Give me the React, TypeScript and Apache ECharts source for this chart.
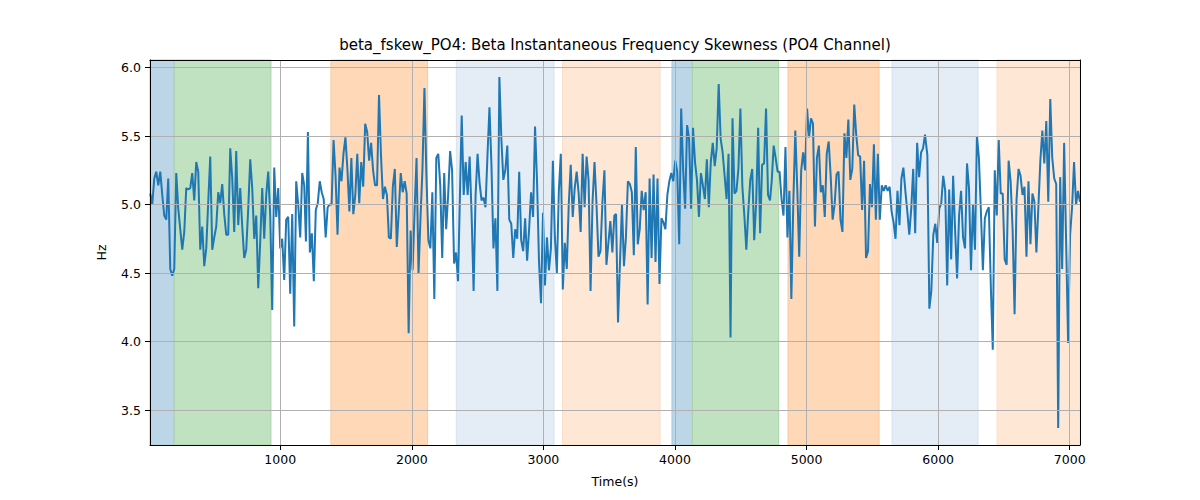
import * as echarts from "echarts";
import { useEffect, useRef } from "react";

// Reading of the trace, split in stretches so each stretch keeps its own time span.
const seg1Span = [12, 1182];
const seg1Vals = [5.08, 5.0, 5.19, 5.24, 5.14, 5.24, 5.07, 4.92, 4.89, 5.19, 4.53, 4.48, 4.53, 5.23, 4.97, 4.82, 4.67, 4.8, 5.12, 5.11, 5.12, 5.23, 5.03, 5.31, 5.24, 4.67, 4.84, 4.55, 4.68, 5.02, 5.35, 4.67, 4.76, 4.84, 5.09, 5.01, 5.15, 4.93, 4.78, 4.78, 5.41, 5.19, 4.8, 5.39, 4.85, 5.12, 4.84, 4.61, 4.67, 4.97, 5.33, 5.12, 4.75, 4.92, 4.39, 4.73, 5.12, 4.75, 5.07, 5.24, 4.92, 4.23, 5.27, 4.91, 5.12, 4.68, 4.75, 4.45, 4.89, 4.91, 4.35, 4.93, 4.11, 5.17, 5.0, 4.76, 5.23, 5.14];

const seg2Span = [1195, 2351];
const seg2Vals = [4.73, 5.53, 4.65, 4.79, 4.44, 4.96, 5.01, 5.17, 5.09, 5.04, 4.76, 4.98, 5.0, 5.0, 5.47, 5.21, 4.78, 5.27, 5.17, 5.37, 5.49, 5.26, 4.95, 5.34, 4.93, 5.07, 5.37, 5.01, 5.31, 5.13, 5.59, 5.53, 5.32, 5.45, 5.25, 5.14, 5.14, 5.8, 5.36, 5.04, 5.13, 5.07, 4.76, 4.75, 5.13, 5.26, 4.69, 4.95, 5.23, 5.09, 5.17, 5.08, 4.06, 4.81, 4.52, 4.95, 5.34, 4.5, 4.9, 5.26, 5.85, 5.21, 4.74, 4.68, 5.09, 4.31, 5.34, 5.37, 5.14, 4.61, 5.23, 4.82, 5.07, 5.39, 5.25, 4.57, 4.65, 4.44];

const seg3Span = [2379, 3539];
const seg3Vals = [5.65, 5.07, 5.31, 5.07, 5.35, 4.92, 4.37, 5.07, 5.37, 5.16, 5.03, 5.05, 4.98, 5.36, 5.71, 5.29, 4.68, 4.9, 4.37, 5.93, 5.48, 5.18, 5.25, 5.43, 4.89, 4.86, 4.61, 4.82, 4.75, 5.24, 4.74, 4.66, 4.9, 4.59, 4.82, 5.09, 4.91, 5.57, 5.17, 4.58, 4.28, 4.94, 4.41, 4.76, 4.52, 4.68, 5.32, 4.76, 4.5, 5.1, 5.37, 4.38, 4.72, 4.53, 5.0, 5.29, 4.91, 5.12, 5.24, 5.08, 4.8, 5.37, 4.98, 5.35, 5.18, 4.37, 5.02, 5.31, 5.0, 4.62, 4.66, 5.02, 5.25, 4.56, 4.72, 4.88, 4.65, 4.92];

const seg4Span = [3552, 4722];
const seg4Vals = [4.93, 4.14, 4.58, 5.0, 4.55, 4.76, 5.17, 5.15, 5.09, 4.63, 5.42, 4.71, 4.82, 5.1, 4.96, 5.09, 4.27, 5.19, 4.61, 5.22, 4.58, 5.19, 4.42, 4.9, 4.87, 4.82, 5.07, 5.17, 5.23, 5.17, 5.32, 5.24, 4.71, 5.7, 5.25, 4.97, 5.58, 5.48, 4.97, 5.56, 5.31, 5.18, 4.91, 5.23, 5.14, 5.04, 5.33, 4.98, 5.31, 5.45, 5.28, 5.41, 5.88, 5.48, 5.38, 5.21, 5.04, 5.37, 4.03, 5.63, 5.08, 5.1, 5.26, 5.7, 5.13, 4.92, 4.67, 4.95, 5.18, 5.26, 4.74, 5.02, 5.56, 4.79, 5.29, 5.3, 5.7, 5.07, 5.03];

const seg5Span = [4735, 5900];
const seg5Vals = [5.17, 5.43, 5.34, 5.24, 5.24, 5.04, 4.92, 5.42, 4.76, 5.1, 4.31, 5.02, 5.54, 5.12, 4.62, 5.25, 5.38, 5.25, 5.7, 5.49, 5.63, 5.59, 4.84, 5.34, 5.43, 5.09, 5.14, 4.91, 5.37, 5.46, 5.21, 4.89, 5.0, 5.22, 5.24, 4.89, 4.8, 5.52, 5.34, 5.62, 5.18, 5.26, 5.73, 5.51, 5.36, 5.35, 4.96, 5.32, 4.61, 4.66, 5.15, 4.98, 5.44, 4.89, 5.37, 4.89, 5.14, 5.1, 5.14, 5.1, 5.13, 4.95, 4.87, 4.75, 5.1, 4.85, 5.19, 5.27, 5.1, 4.95, 4.78, 4.97, 5.26, 4.79, 5.45, 5.2, 5.38, 5.41, 5.51];

const seg6Span = [5918, 7078];
const seg6Vals = [5.36, 4.24, 4.37, 4.78, 4.86, 4.72, 4.97, 5.01, 5.21, 5.1, 4.41, 5.11, 4.6, 5.21, 4.81, 4.46, 4.92, 5.1, 4.76, 4.68, 5.3, 5.12, 4.52, 5.0, 4.67, 5.5, 5.34, 4.95, 4.52, 4.9, 4.95, 4.98, 4.41, 3.94, 5.25, 4.92, 5.47, 5.08, 5.08, 4.6, 4.56, 5.32, 5.17, 4.82, 4.2, 5.04, 5.26, 5.21, 5.07, 5.13, 4.62, 5.17, 4.71, 5.08, 5.02, 4.65, 4.98, 5.32, 5.54, 5.3, 5.61, 5.02, 5.77, 5.34, 5.19, 5.15, 3.37, 5.2, 4.53, 5.45, 4.73, 3.99, 4.78, 4.98, 5.31, 5.0, 5.1, 5.02];

// Shaded periods: [from, to, fill]
const bandFrom = [10, 194, 1385, 2338, 3146, 3977, 4132, 4859, 5650, 6448];
const bandTo = [194, 929, 2120, 3080, 3886, 4132, 4788, 5551, 6303, 7078];
const bandFill = ["#bcd6e8", "#c1e2c1", "#ffd8b7", "#e4ecf6", "#fee8d5", "#bcd6e8", "#c1e2c1", "#ffd8b7", "#e4ecf6", "#fee8d5"];
const bandEdge = ["#a9c9e0", "#a6d4a6", "#fcc89c", "#d6e2f0", "#fbdcc3", "#a9c9e0", "#a6d4a6", "#fcc89c", "#d6e2f0", "#fbdcc3"];

const xTicks = [1000, 2000, 3000, 4000, 5000, 6000, 7000];
const yTicks = [3.5, 4.0, 4.5, 5.0, 5.5, 6.0];

const X_MIN = 10;
const X_MAX = 7078;
const Y_MIN = 3.245;
const Y_MAX = 6.055;

const FONT = "DejaVu Sans";

function stretch(span: number[], vals: number[]) {
  const step = (span[1] - span[0]) / (vals.length - 1);
  return vals.map((v, i) => [span[0] + i * step, v]);
}

export default function App() {
  const box = useRef<HTMLDivElement>(null);

  useEffect(() => {
    if (!box.current) return;
    const c = echarts.init(box.current, undefined, { renderer: "svg" });

    const points = [
      ...stretch(seg1Span, seg1Vals),
      ...stretch(seg2Span, seg2Vals),
      ...stretch(seg3Span, seg3Vals),
      ...stretch(seg4Span, seg4Vals),
      ...stretch(seg5Span, seg5Vals),
      ...stretch(seg6Span, seg6Vals),
    ];

    const grid = { color: "#b0b0b0", width: 1, type: "solid" as const };
    const frame = { show: true, onZero: false, lineStyle: { color: "#000", width: 1 } };
    const text = { fontFamily: FONT, fontSize: 12.5, color: "#000" };

    c.setOption({
      animation: false,
      backgroundColor: "#ffffff",
      textStyle: { fontFamily: FONT },
      title: {
        text: "beta_fskew_PO4: Beta Instantaneous Frequency Skewness (PO4 Channel)",
        left: 615,
        top: 37,
        padding: 0,
        textAlign: "center",
        textStyle: { fontFamily: FONT, fontSize: 15, fontWeight: "normal", color: "#000" },
      },
      grid: { left: 150, right: 120, top: 60, bottom: 55 },
      xAxis: [
        {
          type: "value",
          min: X_MIN,
          max: X_MAX,
          z: 10,
          name: "Time(s)",
          nameLocation: "middle",
          nameGap: 30,
          nameTextStyle: text,
          axisLine: frame,
          axisTick: { show: true, length: 5, customValues: xTicks, lineStyle: { color: "#000" } },
          axisLabel: { ...text, customValues: xTicks, margin: 8, formatter: (v: number) => String(v) },
          splitLine: { show: false },
        },
        {
          type: "value",
          position: "top",
          min: X_MIN,
          max: X_MAX,
          z: 10,
          axisLine: frame,
          axisTick: { show: false },
          axisLabel: { show: false },
          splitLine: { show: false },
        },
      ],
      yAxis: [
        {
          type: "value",
          min: Y_MIN,
          max: Y_MAX,
          z: 10,
          name: "Hz",
          nameLocation: "middle",
          nameGap: 42,
          nameRotate: 90,
          nameTextStyle: text,
          axisLine: frame,
          axisTick: { show: true, length: 5, customValues: yTicks, lineStyle: { color: "#000" } },
          axisLabel: { ...text, customValues: yTicks, margin: 9, formatter: (v: number) => v.toFixed(1) },
          splitLine: { show: false },
        },
        {
          type: "value",
          position: "right",
          min: Y_MIN,
          max: Y_MAX,
          z: 10,
          axisLine: frame,
          axisTick: { show: false },
          axisLabel: { show: false },
          splitLine: { show: false },
        },
      ],
      series: [
        {
          type: "line",
          data: [],
          silent: true,
          z: 1,
          markArea: {
            silent: true,
            data: bandFrom.map((f, i) => [
              { xAxis: f, itemStyle: { color: bandFill[i], borderColor: bandEdge[i], borderWidth: 1 } },
              { xAxis: bandTo[i] },
            ]),
          },
        },
        {
          type: "line",
          data: [],
          silent: true,
          z: 2,
          markLine: {
            silent: true,
            symbol: "none",
            label: { show: false },
            lineStyle: grid,
            data: [...xTicks.map((t) => ({ xAxis: t })), ...yTicks.map((t) => ({ yAxis: t }))],
          },
        },
        {
          type: "line",
          data: points,
          z: 3,
          showSymbol: false,
          symbol: "none",
          lineStyle: { color: "#1f77b4", width: 2 },
          itemStyle: { color: "#1f77b4" },
        },
      ],
    });

    return () => c.dispose();
  }, []);

  return <div ref={box} style={{ position: "fixed", left: 0, top: 0, width: 1200, height: 500 }} />;
}
